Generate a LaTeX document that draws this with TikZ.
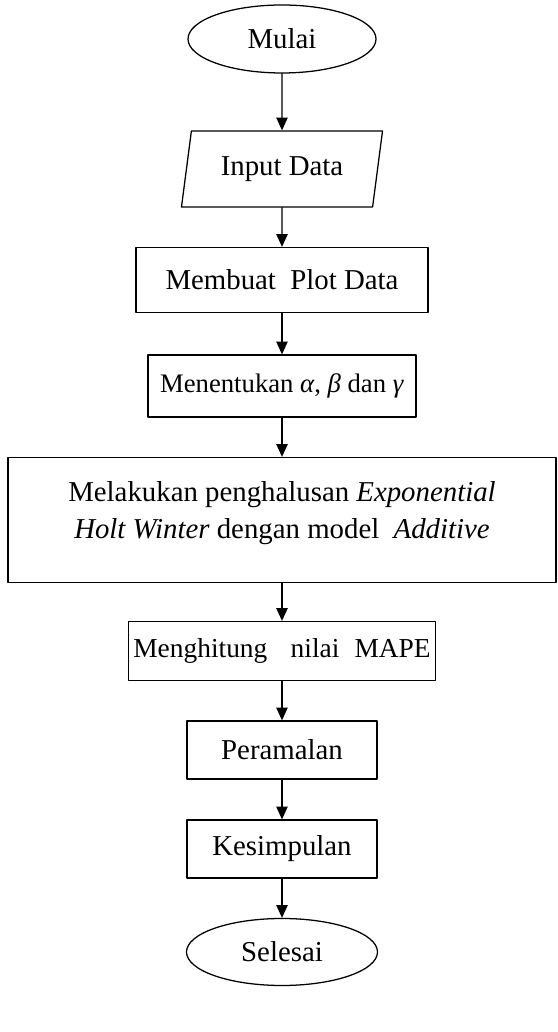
\documentclass[tikz,border=0pt]{standalone}
\usepackage{fontspec}
\setmainfont{Liberation Serif}
\usetikzlibrary{arrows.meta,shapes.geometric}

\begin{document}
\begin{tikzpicture}[line width=0.9pt, line cap=round, line join=round, >={Triangle[length=9pt,width=8pt]}, x=1cm, y=1cm,
    every node/.style={font=\fontsize{20.5}{26.5}\selectfont},
    box/.style={draw, rectangle, inner sep=0pt},
    term/.style={draw, ellipse, inner sep=0pt},
    io/.style={draw, trapezium, trapezium left angle=75, trapezium right angle=105, trapezium stretches=true, inner sep=0pt}]
    \useasboundingbox (0,0) rectangle (13.95,25.8);
    \draw(7.05,24.825) node[term, minimum width=4.7cm, minimum height=1.7cm] (n0) {Mulai};
    \draw(7.05,21.575) node[io, minimum width=5.05cm, minimum height=1.9cm] (n1) {Input Data};
    \draw(7.05,18.8) node[box, minimum width=7.3cm, minimum height=1.625cm] (n2) {Membuat\ \ Plot Data};
    \draw(7.05,16.15) node[box, minimum width=6.7cm, minimum height=1.55cm, font=\fontsize{19}{24}\selectfont] (n3) {Menentukan \textit{α}, \textit{β} dan \textit{γ}};
    \draw(7.05,12.8) node[box, minimum width=13.7cm, minimum height=3.125cm] (n4) {};
    \draw([yshift=0.18cm]n4.center) node[align=center] (t4) {Melakukan penghalusan \textit{Exponential}\\ \textit{Holt Winter} dengan model\ \ \textit{Additive}};
    \draw(7.05,9.525) node[box, minimum width=7.675cm, minimum height=1.475cm, font=\fontsize{19.5}{24}\selectfont] (n5) {Menghitung\hspace{0.85em}nilai\hspace{0.55em}MAPE};
    \draw(7.05,7.05) node[box, minimum width=4.75cm, minimum height=1.45cm] (n6) {Peramalan};
    \draw(7.05,4.575) node[box, minimum width=4.75cm, minimum height=1.45cm] (n7) {Kesimpulan};
    \draw(7.05,2.0) node[term, minimum width=4.775cm, minimum height=1.675cm] (n8) {Selesai};
    % arrows
    \draw[->] (n0) -- (n1);
    \draw[->] (n1) -- (n2);
    \draw[->] (n2) -- (n3);
    \draw[->] (n3) -- (n4);
    \draw[->] (n4) -- (n5);
    \draw[->] (n5) -- (n6);
    \draw[->] (n6) -- (n7);
    \draw[->] (n7) -- (n8);
\end{tikzpicture}
\end{document}
